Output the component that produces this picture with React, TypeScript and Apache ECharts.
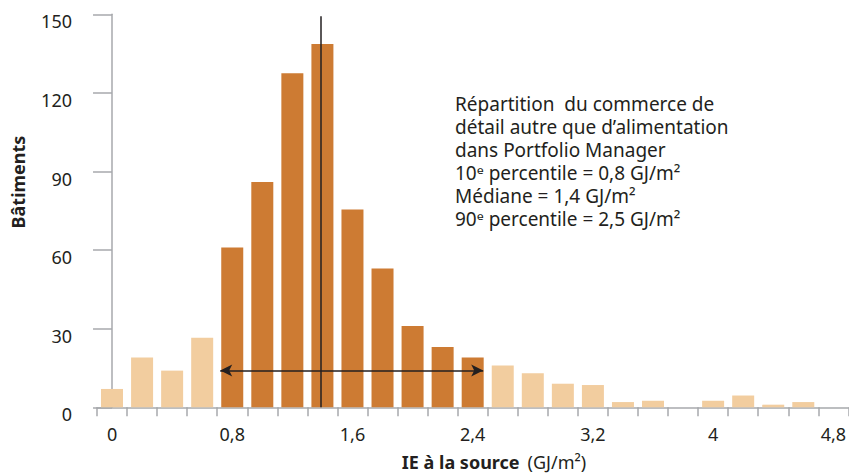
import React, { useEffect, useRef } from "react";
import * as echarts from "echarts";

// Category labels (bin starts, GJ/m²)
const categories = [
  "0", "0,2", "0,4", "0,6", "0,8", "1", "1,2", "1,4", "1,6", "1,8", "2", "2,2", "2,4",
  "2,6", "2,8", "3", "3,2", "3,4", "3,6", "3,8", "4", "4,2", "4,4", "4,6", "4,8",
];
// Number of buildings per bin
const counts = [
  7, 19, 14, 26.5, 61, 86, 127.5, 138.7, 75.5, 53, 31, 23, 19,
  16, 13, 9, 8.5, 2, 2.5, 0, 2.5, 4.5, 1, 2, 0,
];
// Bins between the 10th and 90th percentile (dark)
const darkBins = [4, 5, 6, 7, 8, 9, 10, 11, 12];
const yTicks = { min: 0, max: 150, interval: 30 };
const median = 1.39;
const arrowRange = [0.72, 2.47];
const arrowLevel = 14;
const medianTop = 149.3;

const DARK = "#CD7B33";
const LIGHT = "#F2CD9F";
const INK = "#231F20";
const AXIS = "#A7A9AC";
const FONT = "'Noto Sans', sans-serif";

const annotationLines = [
  "Répartition  du commerce de",
  "détail autre que d’alimentation",
  "dans Portfolio Manager",
  "10ᵉ percentile = 0,8 GJ/m²",
  "Médiane = 1,4 GJ/m²",
  "90ᵉ percentile = 2,5 GJ/m²",
];

export default function App() {
  const ref = useRef<HTMLDivElement>(null);
  useEffect(() => {
    document.body.style.margin = "0";
    const chart = echarts.init(ref.current!, null, { renderer: "svg" });
    chart.setOption({
      animation: false,
      grid: { left: 97, top: 14.3, width: 754, height: 393, containLabel: false },
      xAxis: [
        {
          type: "category",
          data: categories,
          boundaryGap: true,
          axisLine: { show: true, lineStyle: { color: AXIS, width: 1.5 } },
          axisTick: { show: true, interval: 0, length: 9, lineStyle: { color: AXIS, width: 1.5 } },
          axisLabel: { interval: 3, color: INK, fontSize: 18, fontFamily: FONT, margin: 18 },
          splitLine: { show: false },
        },
        {
          type: "value",
          min: -0.1,
          max: 4.9,
          show: false,
        },
      ],
      yAxis: {
        type: "value",
        min: yTicks.min,
        max: yTicks.max,
        interval: yTicks.interval,
        axisLine: { show: true, lineStyle: { color: AXIS, width: 1.5 } },
        axisTick: { show: true, length: 19, lineStyle: { color: AXIS, width: 1.5 } },
        axisLabel: {
          color: INK,
          fontSize: 18,
          fontFamily: FONT,
          margin: 25,
          verticalAlign: "top",
          lineHeight: 14,
        },
        splitLine: { show: false },
      },
      series: [
        {
          type: "bar",
          xAxisIndex: 0,
          barWidth: 22,
          data: counts.map((v, i) => ({
            value: v,
            itemStyle: { color: darkBins.includes(i) ? DARK : LIGHT },
          })),
        },
        {
          type: "line",
          xAxisIndex: 1,
          data: [],
          silent: true,
          markLine: {
            silent: true,
            animation: false,
            label: { show: false },
            data: [
              [
                { coord: [median, 0], symbol: "none" },
                { coord: [median, medianTop], symbol: "none" },
              ],
              [
                { coord: [arrowRange[0], arrowLevel], symbol: "arrow" },
                { coord: [arrowRange[1], arrowLevel], symbol: "arrow" },
              ],
            ],
            symbolSize: [9, 12],
            lineStyle: { color: INK, width: 1.5, type: "solid" },
          },
        },
      ],
      graphic: [
        {
          type: "text",
          x: 18,
          y: 182,
          rotation: Math.PI / 2,
          style: {
            text: "Bâtiments",
            fontFamily: FONT,
            fontWeight: "bold",
            fontSize: 18,
            fill: INK,
            align: "center",
            verticalAlign: "middle",
          },
        },
        {
          type: "text",
          x: 494,
          y: 462,
          style: {
            text: "{b|IE à la source}{p|(GJ/m²)}",
            align: "center",
            verticalAlign: "middle",
            fill: INK,
            rich: {
              b: { fontFamily: FONT, fontWeight: "bold", fontSize: 18, fill: INK, lineHeight: 22 },
              p: { fontFamily: FONT, fontSize: 18, fill: INK, lineHeight: 22, padding: [0, 0, 0, 8] },
            },
          },
        },
        {
          type: "text",
          x: 455,
          y: 92,
          style: {
            text: annotationLines.join("\n"),
            fontFamily: FONT,
            fontSize: 19,
            lineHeight: 23,
            verticalAlign: "top",
            fill: INK,
          },
        },
      ],
    });
    return () => chart.dispose();
  }, []);
  return <div ref={ref} style={{ width: 849, height: 476 }} />;
}
